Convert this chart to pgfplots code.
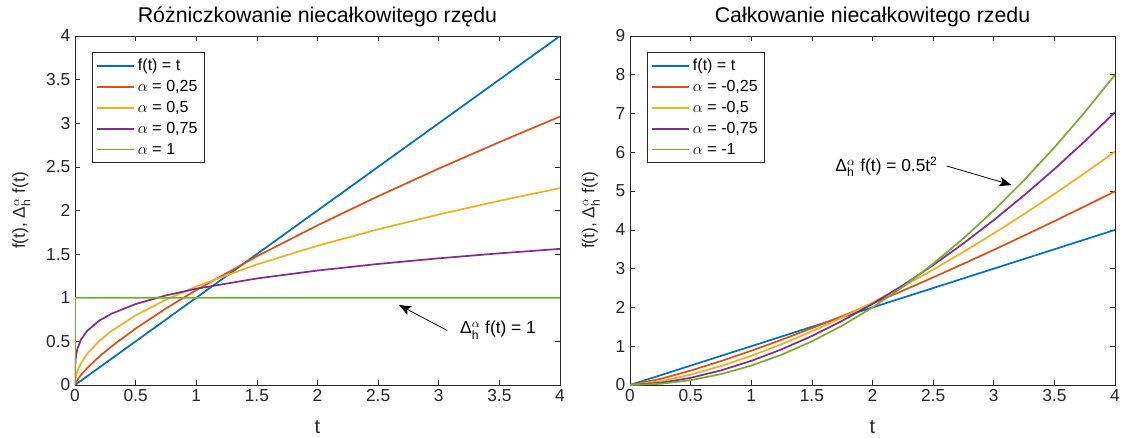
\documentclass[border=0pt]{standalone}
\usepackage{fontspec}
\setmainfont{Liberation Sans}
\usepackage{amsmath}
\usepackage{pgfplots}
\pgfplotsset{compat=1.18}
\usetikzlibrary{arrows.meta}
\definecolor{mblue}{rgb}{0,0.447,0.741}
\definecolor{morange}{rgb}{0.85,0.325,0.098}
\definecolor{myellow}{rgb}{0.929,0.694,0.125}
\definecolor{mpurple}{rgb}{0.494,0.184,0.556}
\definecolor{mgreen}{rgb}{0.466,0.674,0.188}
\definecolor{axgray}{rgb}{0.15,0.15,0.15}
\pgfplotsset{mstyle/.style={
  width=363.75pt,height=261.75pt,scale only axis,
  xmin=0,xmax=4,
  xtick={0,0.5,1,1.5,2,2.5,3,3.5,4},
  axis line style={color=axgray,line width=0.5pt},
  tick style={color=axgray,line width=0.5pt},
  tick align=inside, major tick length=4pt,
  ticklabel style={font=\fontsize{13}{15}\selectfont,color=axgray},
  /pgf/number format/assume math mode=true,
  xlabel style={font=\fontsize{15}{17}\selectfont,color=axgray,yshift=-7pt},
  ylabel style={font=\fontsize{13}{15}\selectfont,color=axgray,yshift=5pt},
  title style={font=\fontsize{16}{18}\selectfont,color=black,yshift=-3pt},
  xlabel={t},
  ylabel={f(t), Δ$^{\alpha}_{\text{h}}$ f(t)},
  legend cell align=left,
  legend style={at={(0.035,0.954)},anchor=north west,draw=axgray,
    font=\fontsize{12}{14}\selectfont,row sep=1.8pt,inner sep=3pt},
  legend image code/.code={\draw[#1,line width=1.3pt] (0pt,0pt) -- (28pt,0pt);},
  every axis plot/.append style={line width=1.3pt},
}}
\begin{document}
\begin{tikzpicture}
\path[use as bounding box] (-56.25pt,-39pt) rectangle (786.75pt,288.75pt);
\begin{axis}[mstyle, ymin=0, ymax=4,
  ytick={0,0.5,1,1.5,2,2.5,3,3.5,4},
  title={Różniczkowanie niecałkowitego rzędu}]
\addplot[mblue] coordinates {(0,0) (4,4)};
\addlegendentry{f(t) = t}
\addplot[morange] coordinates {
(0,0) (0.001,0.00612) (0.01,0.03441) (0.02,0.05787) (0.05,0.11505) (0.1,0.19349)
(0.2,0.32541) (0.3,0.44119) (0.5,0.64697) (0.75,0.87690) (1,1.08807) (1.5,1.47476)
(2,1.82990) (2.5,2.16327) (3,2.48025) (3.5,2.78394) (4,3.07752)};
\addlegendentry{$\alpha$ = 0,25}
\addplot[myellow] coordinates {
(0,0) (0.001,0.03568) (0.005,0.07979) (0.01,0.11284) (0.02,0.15958) (0.05,0.25231)
(0.1,0.35682) (0.2,0.50463) (0.3,0.61804) (0.5,0.79788) (0.75,0.97721) (1,1.12838)
(1.5,1.38198) (2,1.59577) (2.5,1.78412) (3,1.95441) (3.5,2.11100) (4,2.25676)};
\addlegendentry{$\alpha$ = 0,5}
\addplot[mpurple] coordinates {
(0,0) (0.0001,0.11033) (0.001,0.19619) (0.005,0.29337) (0.01,0.34888) (0.02,0.41489)
(0.05,0.52170) (0.1,0.62041) (0.2,0.73780) (0.3,0.81651) (0.5,0.92773) (0.75,1.02671)
(1,1.10326) (1.5,1.22096) (2,1.31201) (2.5,1.38728) (3,1.45198) (3.5,1.50902) (4,1.56025)};
\addlegendentry{$\alpha$ = 0,75}
\addplot[mgreen] coordinates {(0,0) (0.001,1) (4,1)};
\addlegendentry{$\alpha$ = 1}
\draw[-{Stealth[length=9pt,width=7pt,inset=2pt]},line width=0.6pt] (axis cs:3.07,0.625) -- (axis cs:2.672,0.917);
\node[anchor=west,font=\fontsize{13}{15}\selectfont,inner sep=0pt] at (axis cs:3.175,0.63) {Δ$^{\alpha}_{\text{h}}$ f(t) = 1};
\end{axis}
\begin{axis}[mstyle, xshift=416.25pt, ymin=0, ymax=9,
  ytick={0,1,2,3,4,5,6,7,8,9},
  title={Całkowanie niecałkowitego rzedu}]
\addplot[mblue] coordinates {(0,0) (4,4)};
\addlegendentry{f(t) = t}
\addplot[morange] coordinates {
(0,0) (0.25,0.15602) (0.5,0.37109) (0.75,0.61602) (1,0.88261) (1.25,1.16656) (1.5,1.46515)
(1.75,1.77650) (2,2.09921) (2.25,2.43219) (2.5,2.77456) (2.75,3.12562) (3,3.48474)
(3.25,3.85145) (3.5,4.22527) (3.75,4.60584) (4,4.99279)};
\addlegendentry{$\alpha$ = -0,25}
\addplot[myellow] coordinates {
(0,0) (0.25,0.09403) (0.5,0.26596) (0.75,0.48860) (1,0.75225) (1.25,1.05130) (1.5,1.38198)
(1.75,1.74149) (2,2.12769) (2.25,2.53885) (2.5,2.97354) (2.75,3.43055) (3,3.90882)
(3.25,4.40747) (3.5,4.92568) (3.75,5.46275) (4,6.01802)};
\addlegendentry{$\alpha$ = -0,5}
\addplot[mpurple] coordinates {
(0,0) (0.25,0.05496) (0.5,0.18485) (0.75,0.37582) (1,0.62175) (1.25,0.91878) (1.5,1.26409)
(1.75,1.65551) (2,2.09132) (2.25,2.57002) (2.5,3.09039) (2.75,3.65133) (3,4.25186)
(3.25,4.89118) (3.5,5.56786) (3.75,6.28304) (4,7.03432)};
\addlegendentry{$\alpha$ = -0,75}
\addplot[mgreen] coordinates {
(0,0) (0.25,0.03125) (0.5,0.125) (0.75,0.28125) (1,0.5) (1.25,0.78125) (1.5,1.125)
(1.75,1.53125) (2,2) (2.25,2.53125) (2.5,3.125) (2.75,3.78125) (3,4.5)
(3.25,5.28125) (3.5,6.125) (3.75,7.03125) (4,8)};
\addlegendentry{$\alpha$ = -1}
\draw[-{Stealth[length=9pt,width=7pt,inset=2pt]},line width=0.6pt] (axis cs:2.61,5.65) -- (axis cs:3.146,5.157);
\node[anchor=west,font=\fontsize{13}{15}\selectfont,inner sep=0pt] at (axis cs:1.692,5.62) {Δ$^{\alpha}_{\text{h}}$ f(t) = 0.5t\textsuperscript{2}};
\end{axis}
\end{tikzpicture}
\end{document}
